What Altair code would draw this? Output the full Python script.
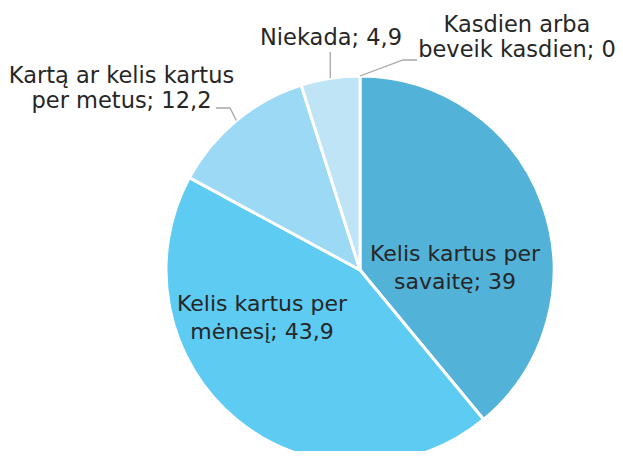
import math
import altair as alt
import pandas as pd

# ---- data ----
categories = [
    "Kasdien arba beveik kasdien",
    "Kelis kartus per savaitę",
    "Kelis kartus per mėnesį",
    "Kartą ar kelis kartus per metus",
    "Niekada",
]
values = [0, 39, 43.9, 12.2, 4.9]
# number of words on the first label line (0 = single line)
first_line_words = [2, 3, 3, 4, 0]
inside = [False, True, True, False, False]

# ---- styling / layout ----
colors = ["#52B2D7", "#52B2D7", "#5DCBF2", "#9BD9F4", "#BFE4F6"]
FONT = "DejaVu Sans"
CX, CY, R = 352, 262, 194
W, H = 607, 443

label_xy = [(509, 23.7), (447, 252.7), (254, 302.7), (113.5, 75.3), (323, 37)]
leader_bends = [
    [(395, 52), (409, 52)],
    [],
    [],
    [(222, 100), (208, 100)],
    [(None, 44)],
]


def fmt(v):
    s = ("%g" % v).replace(".", ",")
    return s


def make_label(cat, v, k):
    words = cat.split(" ")
    if k == 0:
        return f"{cat}; {fmt(v)}"
    return " ".join(words[:k]) + "\n" + " ".join(words[k:]) + f"; {fmt(v)}"


pie_df = pd.DataFrame({"cat": categories, "value": values, "idx": range(len(values))})

total = sum(values)
rows_lab, rows_lead = [], []
cum = 0.0
for i, (c, v) in enumerate(zip(categories, values)):
    mid = (cum + v / 2) / total * 2 * math.pi
    cum += v
    rows_lab.append({"label": make_label(c, v, first_line_words[i]),
                     "lx": label_xy[i][0], "ly": label_xy[i][1], "inside": inside[i]})
    if leader_bends[i]:
        ax, ay = CX + R * math.sin(mid), CY - R * math.cos(mid)
        pts = [(ax, ay)] + [((ax if bx is None else bx), by) for bx, by in leader_bends[i]]
        for j, (px, py) in enumerate(pts):
            rows_lead.append({"cat": c, "px": px, "py": py, "o": j})

lab_df = pd.DataFrame(rows_lab)
lead_df = pd.DataFrame(rows_lead)

pie = alt.Chart(pie_df).mark_arc(outerRadius=R, stroke="white", strokeWidth=3).encode(
    theta=alt.Theta("value:Q", stack=True),
    order=alt.Order("idx:Q"),
    color=alt.Color("cat:N", scale=alt.Scale(domain=categories, range=colors), legend=None),
    x=alt.value(CX),
    y=alt.value(CY),
)

leaders = alt.Chart(lead_df).mark_line(color="#A6A6A6", strokeWidth=1.3).encode(
    x=alt.X("px:Q", scale=None, axis=None),
    y=alt.Y("py:Q", scale=None, axis=None),
    detail="cat:N",
    order="o:Q",
)

txt_in = alt.Chart(lab_df).transform_filter("datum.inside").mark_text(
    font=FONT, fontSize=22, lineBreak="\n", lineHeight=28.5, align="center",
    baseline="alphabetic", color="#262626",
).encode(
    x=alt.X("lx:Q", scale=None, axis=None),
    y=alt.Y("ly:Q", scale=None, axis=None),
    text="label:N",
)

txt_out = alt.Chart(lab_df).transform_filter("!datum.inside").mark_text(
    font=FONT, fontSize=22.5, lineBreak="\n", lineHeight=25, align="center",
    baseline="alphabetic", color="#262626",
).encode(
    x=alt.X("lx:Q", scale=None, axis=None),
    y=alt.Y("ly:Q", scale=None, axis=None),
    text="label:N",
)

chart = alt.layer(pie, leaders, txt_in, txt_out).properties(
    width=W, height=H, padding=0, autosize=alt.AutoSizeParams(type="none")
).configure_view(stroke=None)

chart.save("out.html", embed_options={"renderer": "svg", "actions": False})
